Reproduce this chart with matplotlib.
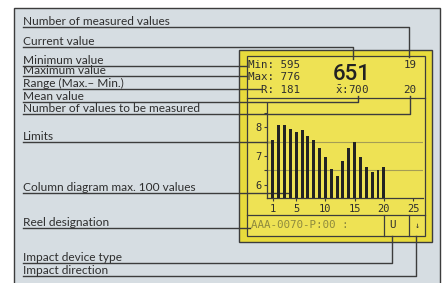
import matplotlib.pyplot as plt
from matplotlib.patches import Rectangle

# ---------------- data ----------------
labels = ["Number of measured values", "Current value", "Minimum value",
          "Maximum value", "Range (Max.\u2013 Min.)", "Mean value",
          "Number of values to be measured", "Limits",
          "Column diagram max. 100 values", "Reel designation",
          "Impact device type", "Impact direction"]
bar_values = [7.55, 8.06, 8.06, 7.92, 7.84, 7.90, 7.69, 7.55, 7.27, 6.98,
              6.54, 6.32, 6.84, 7.27, 7.49, 6.98, 6.61, 6.46, 6.52, 6.61]
limits = [6.5, 7.5]
x_ticks = [1, 5, 10, 15, 20, 25]
y_ticks = [6, 7, 8]
stats = ["Min: 595", "Max: 776", "  R: 181"]
current_value = "651"
n_measured = "19"
n_target = "20"
mean_text = r"$\bar{\mathtt{x}}$:700"
reel = "AAA-0070-P:00 :"
device_type = "U"
direction = "\u2193"

# ---------------- layout (pixels) ----------------
# underline y, target x, end y of the vertical leg (None = straight line)
leaders = [(27, 409, 57), (47, 353, 59), (66, 247, None), (76, 247, None),
           (89, 261, None), (102, 358, 96), (114, 410, 96), (142, 272, None),
           (193, 290, None), (228, 250, None), (263, 392, 236), (276, 416, 236)]

W, H = 447, 283
line_col = "#3c3c3c"
bg_col = "#d6dde2"
txt_col = "#2e2e2e"

fig = plt.figure(figsize=(W / 100, H / 100), dpi=100)
fig.patch.set_facecolor("white")
bg = fig.add_axes([0, 0, 1, 1])
bg.set_xlim(0, W)
bg.set_ylim(H, 0)
bg.axis("off")

# outer frame
bg.add_patch(Rectangle((14, 8), 426, 290, facecolor=bg_col, edgecolor=line_col, lw=1.0))
# display
bg.add_patch(Rectangle((239, 50), 193, 192, facecolor="#e8db3c", edgecolor=line_col, lw=1.0))
bg.add_patch(Rectangle((247, 56), 178, 180, facecolor="#eee254", edgecolor=line_col, lw=0.9))
bg.plot([247, 425], [98, 98], color=line_col, lw=0.9)
bg.plot([247, 425], [215, 215], color=line_col, lw=0.9)
bg.plot([384, 384], [215, 236], color=line_col, lw=0.9)
bg.plot([409, 409], [215, 236], color=line_col, lw=0.9)

# left labels with leader lines
for text, (uy, tx, ey) in zip(labels, leaders):
    bg.text(23, uy - 2, text, fontsize=8.6, family="Lato", color=txt_col,
            va="baseline", ha="left")
    xs, ys = [23, tx], [uy, uy]
    if ey is not None:
        xs.append(tx)
        ys.append(ey)
    bg.plot(xs, ys, color=line_col, lw=1.0, zorder=5)

# display texts
mono = "DejaVu Sans Mono"
for s, y in zip(stats, [65, 77, 90]):
    bg.text(248, y, s, family=mono, fontsize=7.8, color=txt_col, va="center", ha="left")
bg.text(352, 74, current_value, family="Roboto", fontsize=16, fontweight="medium",
        color="#222222", va="center", ha="center")
bg.text(410, 65, n_measured, family=mono, fontsize=7.8, color=txt_col, va="center", ha="center")
bg.text(410, 90, n_target, family=mono, fontsize=7.8, color=txt_col, va="center", ha="center")
bg.text(335, 90, mean_text, family=mono, fontsize=7.8, color=txt_col, va="center", ha="left")
bg.text(251, 225, reel, family=mono, fontsize=7.8, color="#8e8a3e", va="center", ha="left")
bg.text(392, 225, device_type, family=mono, fontsize=7.8, color=txt_col, va="center", ha="center")
bg.text(417, 225, direction, family=mono, fontsize=6, color=txt_col, va="center", ha="center")

# column diagram
x0, x1, y0, y1 = 267, 423, 103, 198
ax = fig.add_axes([x0 / W, 1 - y1 / H, (x1 - x0) / W, (y1 - y0) / H])
ax.patch.set_alpha(0)
ax.set_xlim(0, 26.7)
ax.set_ylim(5.55, 8.83)
for lim in limits:
    ax.axhline(lim, color="#a59d55", lw=0.8, zorder=1)
ax.bar(range(1, len(bar_values) + 1), [v - 5.55 for v in bar_values], bottom=5.55,
       width=0.5, color="#232323", zorder=3)
ax.spines[["top", "right"]].set_visible(False)
for sp in ["left", "bottom"]:
    ax.spines[sp].set_color(line_col)
    ax.spines[sp].set_linewidth(0.9)
ax.set_xticks(x_ticks)
ax.set_xticklabels([str(t) for t in x_ticks], family=mono, fontsize=7.5, color=txt_col)
ax.set_yticks(y_ticks)
ax.set_yticklabels([str(t) for t in y_ticks], family=mono, fontsize=7.5, color=txt_col)
ax.set_yticks([6.5, 7.5, 8.5], minor=True)
ax.tick_params(axis="both", length=2.5, width=0.8, color=line_col, pad=1.5)
ax.tick_params(axis="y", which="minor", length=2, width=0.8, color=line_col)

fig.savefig("out.png", dpi=100)
